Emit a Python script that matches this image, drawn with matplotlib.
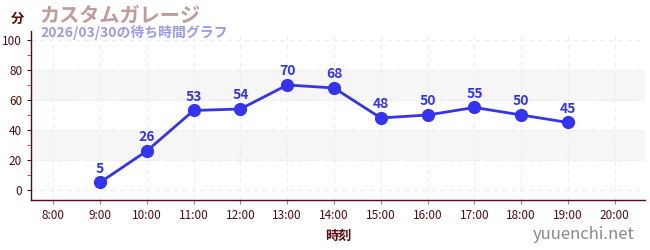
import matplotlib
matplotlib.use("Agg")
import matplotlib.pyplot as plt
import numpy as np

plt.rcParams['font.family'] = ['Noto Sans CJK JP', 'DejaVu Sans']

hours = ['8:00', '9:00', '10:00', '11:00', '12:00', '13:00', '14:00',
         '15:00', '16:00', '17:00', '18:00', '19:00', '20:00']
wait_hours = ['9:00', '10:00', '11:00', '12:00', '13:00', '14:00',
              '15:00', '16:00', '17:00', '18:00', '19:00']
wait_min = [5, 26, 53, 54, 70, 68, 48, 50, 55, 50, 45]

dark = '#5a0a0a'
blue = '#3434ee'

fig = plt.figure(figsize=(6.5, 2.5), dpi=100)
ax = fig.add_axes([0.048, 0.2, 0.944, 0.676])

xs = [hours.index(h) for h in wait_hours]

# bands
for lo, hi in [(20, 40), (60, 80)]:
    ax.axhspan(lo, hi, color='#f6f6f6', zorder=0)

ax.plot(xs, wait_min, color=blue, lw=2, marker='o', ms=8.5, zorder=3)
for x, v in zip(xs, wait_min):
    ax.annotate(str(v), (x, v), xytext=(0, 5), textcoords='offset points',
                ha='center', va='bottom', color=blue, fontsize=10,
                fontweight='bold')

ax.set_xlim(-0.47, 12.64)
ax.set_ylim(-6.7, 106)
ax.set_xticks(range(len(hours)))
ax.set_xticklabels(hours)
ax.set_yticks([0, 20, 40, 60, 80, 100])
ax.set_yticks([10, 30, 50, 70, 90], minor=True)
ax.tick_params(axis='both', labelsize=8.5, colors=dark, length=3, width=0.8)
ax.tick_params(axis='y', which='minor', colors='#dd2222', length=3)
ax.tick_params(axis='x', colors='#888888', labelcolor=dark)
ax.grid(True, ls=(0, (4, 4)), color='#ececec', lw=0.8)
ax.set_axisbelow(True)
for s in ['top', 'right']:
    ax.spines[s].set_visible(False)
for s in ['left', 'bottom']:
    ax.spines[s].set_color(dark)
    ax.spines[s].set_linewidth(1)

ax.set_xlabel('時刻', color=dark, fontsize=9.5, fontweight='bold', labelpad=5)

fig.text(0.016, 0.925, '分', color=dark, fontsize=9.5, fontweight='bold', va='center')
fig.text(0.060, 0.94, 'カスタムガレージ', color='#c39a9a', fontsize=14.5,
         fontweight='bold', va='center')
fig.text(0.062, 0.868, '2026/03/30の待ち時間グラフ', color='#9a9aee',
         fontsize=10, fontweight='bold', va='center')
fig.text(0.977, 0.062, 'yuuenchi.net', color='#888888', fontsize=12,
         ha='right', va='center')

fig.savefig('out.png', dpi=100)
plt.close(fig)
